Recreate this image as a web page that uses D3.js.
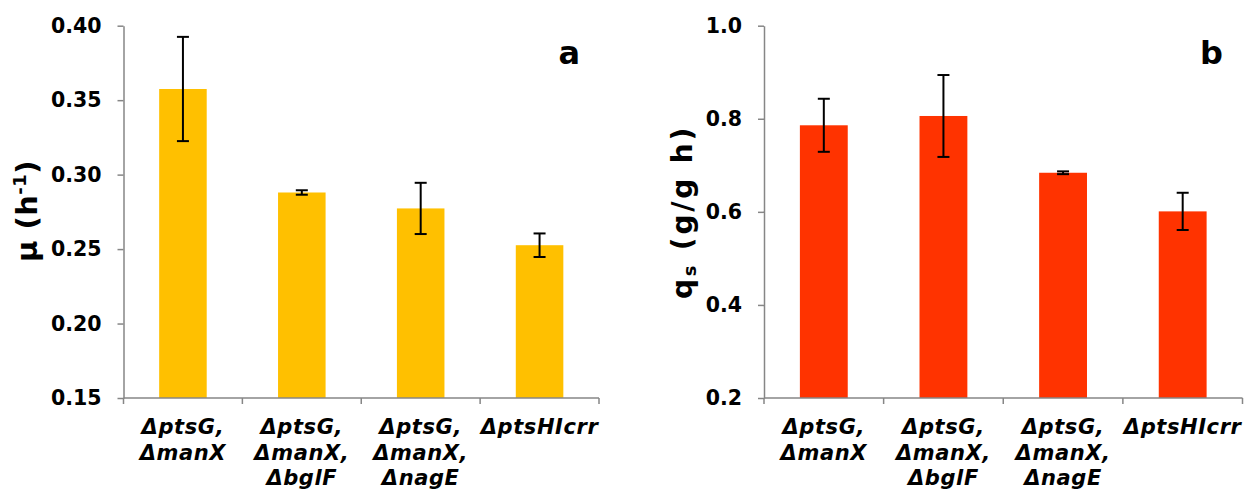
<!DOCTYPE html>
<html>
<head>
<meta charset="utf-8">
<script src="https://cdn.jsdelivr.net/npm/d3@7"></script>
<style>
  html, body { margin: 0; padding: 0; background: #fff; }
  svg text { font-family: "DejaVu Sans", Verdana, sans-serif; font-weight: bold; fill: #000; }
</style>
</head>
<body>
<svg id="chart" width="1246" height="489"></svg>
<script>
// Strains (multi-line category labels)
const strains = [
  ["ΔptsG,", "ΔmanX"],
  ["ΔptsG,", "ΔmanX,", "ΔbglF"],
  ["ΔptsG,", "ΔmanX,", "ΔnagE"],
  ["ΔptsHIcrr"]
];

// Panel a: specific growth rate μ (h-1)
const muValues = [0.3575, 0.2880, 0.2773, 0.2526];
const muErrors = [0.0350, 0.0015, 0.0172, 0.0079];
const muTicks = [0.15, 0.20, 0.25, 0.30, 0.35, 0.40];

// Panel b: specific glucose uptake rate qs (g/g h)
const qsValues = [0.786, 0.806, 0.684, 0.601];
const qsErrors = [0.057, 0.088, 0.003, 0.040];
const qsTicks = [0.2, 0.4, 0.6, 0.8, 1.0];

const svg = d3.select("#chart");
const AXIS_COLOR = "#868686";

function panel(opts) {
  const g = svg.append("g");
  const x = d3.scaleBand()
    .domain(d3.range(strains.length))
    .range([opts.left, opts.right])
    .paddingInner(0.6)
    .paddingOuter(0.3);
  const y = d3.scaleLinear()
    .domain([opts.ticks[0], opts.ticks[opts.ticks.length - 1]])
    .range([opts.bottom, opts.top]);

  // bars
  g.selectAll("rect.bar")
    .data(opts.values)
    .join("rect")
    .attr("class", "bar")
    .attr("x", (d, i) => x(i))
    .attr("width", x.bandwidth())
    .attr("y", d => y(d))
    .attr("height", d => y(opts.ticks[0]) - y(d))
    .attr("fill", opts.color);

  // error bars
  const capHalf = 6;
  const eb = g.selectAll("g.err")
    .data(opts.values.map((v, i) => ({ v, e: opts.errors[i], i })))
    .join("g")
    .attr("class", "err")
    .attr("stroke", "#000")
    .attr("stroke-width", 2);
  eb.append("line")
    .attr("x1", d => x(d.i) + x.bandwidth() / 2)
    .attr("x2", d => x(d.i) + x.bandwidth() / 2)
    .attr("y1", d => y(d.v + d.e))
    .attr("y2", d => y(d.v - d.e));
  eb.append("line")
    .attr("x1", d => x(d.i) + x.bandwidth() / 2 - capHalf)
    .attr("x2", d => x(d.i) + x.bandwidth() / 2 + capHalf)
    .attr("y1", d => y(d.v + d.e))
    .attr("y2", d => y(d.v + d.e));
  eb.append("line")
    .attr("x1", d => x(d.i) + x.bandwidth() / 2 - capHalf)
    .attr("x2", d => x(d.i) + x.bandwidth() / 2 + capHalf)
    .attr("y1", d => y(d.v - d.e))
    .attr("y2", d => y(d.v - d.e));

  // y axis
  const yAxis = g.append("g")
    .attr("transform", `translate(${opts.left},0)`)
    .call(d3.axisLeft(y).tickValues(opts.ticks).tickFormat(d3.format(opts.fmt))
      .tickSizeInner(6).tickSizeOuter(0).tickPadding(16));
  yAxis.select(".domain").attr("stroke", AXIS_COLOR).attr("stroke-width", 1.5);
  yAxis.selectAll(".tick line").attr("stroke", AXIS_COLOR).attr("stroke-width", 1.5);
  yAxis.selectAll(".tick text")
    .attr("font-size", 20.5)
    .attr("font-family", "DejaVu Sans")
    .attr("font-weight", "bold")
    .attr("fill", "#000");

  // x axis: ticks at category boundaries
  const bounds = d3.range(strains.length + 1).map(k => opts.left + k * (opts.right - opts.left) / strains.length);
  g.append("line")
    .attr("x1", opts.left).attr("x2", opts.right)
    .attr("y1", opts.bottom).attr("y2", opts.bottom)
    .attr("stroke", AXIS_COLOR).attr("stroke-width", 1.5);
  g.selectAll("line.xtick")
    .data(bounds)
    .join("line")
    .attr("class", "xtick")
    .attr("x1", d => d).attr("x2", d => d)
    .attr("y1", opts.bottom).attr("y2", opts.bottom + 6)
    .attr("stroke", AXIS_COLOR).attr("stroke-width", 1.5);

  // category labels
  const lab = g.selectAll("text.cat")
    .data(strains)
    .join("text")
    .attr("class", "cat")
    .attr("font-size", 21)
    .attr("letter-spacing", 0.6)
    .attr("font-style", "italic")
    .attr("text-anchor", "middle");
  lab.each(function (lines, i) {
    const cx = x(i) + x.bandwidth() / 2;
    d3.select(this).selectAll("tspan")
      .data(lines)
      .join("tspan")
      .attr("x", cx)
      .attr("y", (d, k) => 434 + k * 25.5)
      .text(d => d);
  });

  // y axis title
  const t = g.append("text")
    .attr("transform", `translate(${opts.titleX},${opts.titleY}) rotate(-90)`)
    .attr("text-anchor", "middle")
    .attr("letter-spacing", opts.titleSpacing)
    .attr("font-size", opts.titleSize);
  opts.title(t);

  // panel letter
  g.append("text")
    .attr("x", opts.letterX).attr("y", 64)
    .attr("text-anchor", "end")
    .attr("font-size", 32)
    .text(opts.letter);
}

panel({
  left: 123.5, right: 599, top: 25.7, bottom: 398,
  values: muValues, errors: muErrors, ticks: muTicks, fmt: ".2f",
  color: "#FFC000",
  titleX: 37, titleY: 211, titleSize: 29, titleSpacing: 0.5,
  title: t => {
    t.append("tspan").text("μ (h");
    t.append("tspan").attr("font-size", 18).attr("dy", -11).text("-1");
    t.append("tspan").attr("dy", 11).text(")");
  },
  letter: "a", letterX: 580
});

panel({
  left: 764, right: 1242.5, top: 25.7, bottom: 398,
  values: qsValues, errors: qsErrors, ticks: qsTicks, fmt: ".1f",
  color: "#FF3300",
  titleX: 692, titleY: 212, titleSize: 28, titleSpacing: 2.8,
  title: t => {
    t.append("tspan").text("q");
    t.append("tspan").attr("font-size", 18).attr("dy", 4).text("s");
    t.append("tspan").attr("dy", -4).text(" (g/g h)");
  },
  letter: "b", letterX: 1223
});
</script>
</body>
</html>
